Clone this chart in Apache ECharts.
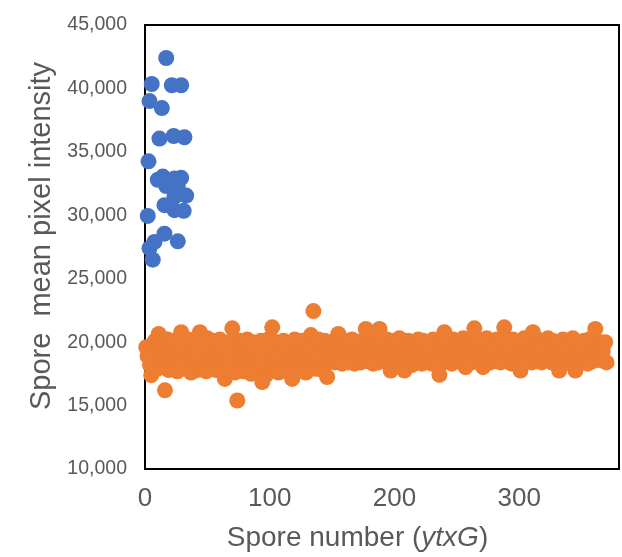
<!DOCTYPE html>
<html>
<head>
<meta charset="utf-8">
<script src="https://cdn.jsdelivr.net/npm/echarts@6/dist/echarts.min.js"></script>
<style>
html,body{margin:0;padding:0;background:#fff;}
#chart{width:622px;height:557px;}
</style>
</head>
<body>
<div id="chart"></div>
<script>
// Blue series (control spores), x = spore number, y = mean pixel intensity
var blueX = [17, 5.4, 21.5, 29, 3.6, 13.5, 11.6, 23, 31.6, 2.8, 10.3, 14.3, 23.6, 29, 17, 26.3, 33, 23.6, 15.6, 23.6, 31, 2.2, 15.6, 26.3, 3.6, 7.6, 6.2];
var blueY = [42400, 40350, 40250, 40250, 39000, 38450, 36050, 36250, 36150, 34250, 32800, 33050, 32900, 32950, 32300, 32300, 31550, 31450, 30800, 30400, 30350, 29950, 28550, 27950, 27400, 27900, 26500];

// Orange series (ytxG spores), values for spore numbers 1..370
var orangeY = [
19600, 18900, 19300, 18200, 17400, 19800, 18600, 20100, 19100, 17900,
20650, 18400, 19500, 18100, 19900, 16200, 18800, 20200, 17800, 19400,
18600, 19700, 18000, 20100, 19200, 17700, 18900, 19600, 20780, 18300,
19000, 17900, 19800, 18500, 20200, 18800, 17600, 19400, 18200, 20000,
19100, 17800, 18700, 20780, 19300, 18100, 19900, 18500, 17700, 20300,
18900, 19500, 18000, 20100, 18600, 19200, 17800, 19700, 18400, 20200,
18800, 19400, 17900, 17100, 19600, 18300, 20000, 18700, 19100, 21090,
18500, 17600, 19800, 15400, 18900, 20100, 18200, 19300, 17700, 19900,
18600, 20200, 18000, 19400, 17500, 18800, 20000, 19200, 17800, 18500,
19700, 18300, 20100, 16850, 19000, 18600, 17400, 19500, 18100, 20300,
18800, 21170, 17900, 19200, 18400, 20000, 17600, 18900, 19600, 18200,
20100, 17800, 19300, 18500, 19900, 18000, 19000, 17100, 18700, 20200,
19400, 18300, 17700, 19800, 18800, 20100, 18100, 19300, 17600, 19600,
18500, 20000, 20560, 18200, 22450, 19100, 17900, 18700, 20200, 18400,
19500, 17800, 19000, 20100, 18300, 17250, 19700, 18600, 20000, 18900,
19300, 18400, 20200, 18800, 20650, 18500, 19600, 18300, 19900, 18700,
20100, 19000, 18400, 19700, 18600, 20200, 18900, 18300, 19500, 20000,
18700, 19200, 18400, 20100, 18800, 19600, 21040, 18500, 19300, 20200,
18600, 19900, 18300, 19400, 20300, 18800, 18400, 21040, 19100, 20000,
18500, 19700, 18900, 20200, 18400, 19300, 17760, 19800, 18700, 20100,
19000, 18300, 19600, 20300, 18600, 19200, 18800, 17760, 19900, 18500,
20100, 18900, 19400, 18200, 20000, 18700, 19300, 18400, 20200, 18800,
19500, 18300, 20100, 18900, 19200, 18500, 20000, 18700, 19600, 18300,
20200, 18800, 19400, 18500, 19900, 17420, 18900, 19700, 18400, 20780,
19100, 18600, 20100, 18800, 19500, 18300, 20200, 18900, 19300, 18500,
20000, 18700, 19600, 18400, 20300, 18800, 18030, 19800, 18600, 20100,
19200, 18400, 19700, 21090, 18700, 19400, 18500, 20200, 18900, 19100,
18030, 19900, 18600, 20300, 18800, 19500, 18400, 20100, 18900, 19300,
18500, 20200, 18800, 19600, 18400, 20000, 18700, 21170, 19100, 18500,
20100, 18900, 19400, 18300, 20200, 18700, 19500, 18600, 20000, 18800,
17760, 19700, 18900, 20300, 18500, 19200, 18700, 20100, 19000, 18400,
20780, 18800, 19600, 18500, 20200, 18900, 19300, 18400, 20000, 18700,
19500, 18600, 20300, 18900, 19100, 18400, 20100, 18800, 19700, 18500,
20000, 17760, 19300, 18700, 20200, 18900, 19500, 18400, 20100, 18800,
19600, 18500, 20300, 18900, 17760, 19200, 18600, 20000, 18800, 19400,
18400, 20100, 18700, 19500, 18300, 20200, 18900, 19100, 18500, 19800,
21040, 18700, 19400, 18600, 20000, 18900, 19300, 18500, 20000, 18400
];

var xTicks = [0, 100, 200, 300];
var yTicks = [10000, 15000, 20000, 25000, 30000, 35000, 40000, 45000];

var blueData = blueX.map(function (x, i) { return [x, blueY[i]]; });
var orangeData = orangeY.map(function (y, i) { return [i + 1, y]; });

var chart = echarts.init(document.getElementById('chart'));
var font = 'Liberation Sans, Arial, sans-serif';
chart.setOption({
  animation: false,
  backgroundColor: '#fff',
  grid: {
    left: 145, right: 3, top: 25, bottom: 87,
    show: true, borderColor: '#000', borderWidth: 2, backgroundColor: 'transparent'
  },
  xAxis: {
    type: 'value',
    min: 0, max: 380, interval: 100,
    axisLine: { show: false },
    axisTick: { show: false },
    splitLine: { show: false },
    axisLabel: {
      showMaxLabel: false,
      color: '#595959', fontSize: 26, fontFamily: font, margin: 17,
      formatter: function (v) { return xTicks.indexOf(v) >= 0 ? String(v) : ''; }
    },
    name: 'Spore number ({i|ytxG})',
    nameLocation: 'middle',
    nameGap: 55,
    nameTextStyle: {
      color: '#595959', fontSize: 28, fontFamily: font,
      padding: [0, 49, 0, 0],
      rich: { i: { fontStyle: 'italic', color: '#595959', fontSize: 28, fontFamily: font } }
    }
  },
  yAxis: {
    type: 'value',
    min: 10000, max: 45000, interval: 5000,
    axisLine: { show: false },
    axisTick: { show: false },
    splitLine: { show: false },
    axisLabel: {
      color: '#595959', fontSize: 19.5, fontFamily: font, margin: 18,
      formatter: function (v) { return yTicks.indexOf(v) >= 0 ? v.toLocaleString('en-US') : ''; }
    },
    name: 'Spore  mean pixel intensity',
    nameLocation: 'middle',
    nameGap: 86,
    nameTextStyle: { color: '#595959', fontSize: 29, fontFamily: font, padding: [0, 0, 0, 22] }
  },
  series: [
    {
      type: 'scatter', data: blueData, symbolSize: 16, clip: false,
      itemStyle: { color: '#4472C4', opacity: 1 }
    },
    {
      type: 'scatter', data: orangeData, symbolSize: 16, clip: false,
      itemStyle: { color: '#ED7D31', opacity: 1 }
    }
  ]
});
</script>
</body>
</html>
